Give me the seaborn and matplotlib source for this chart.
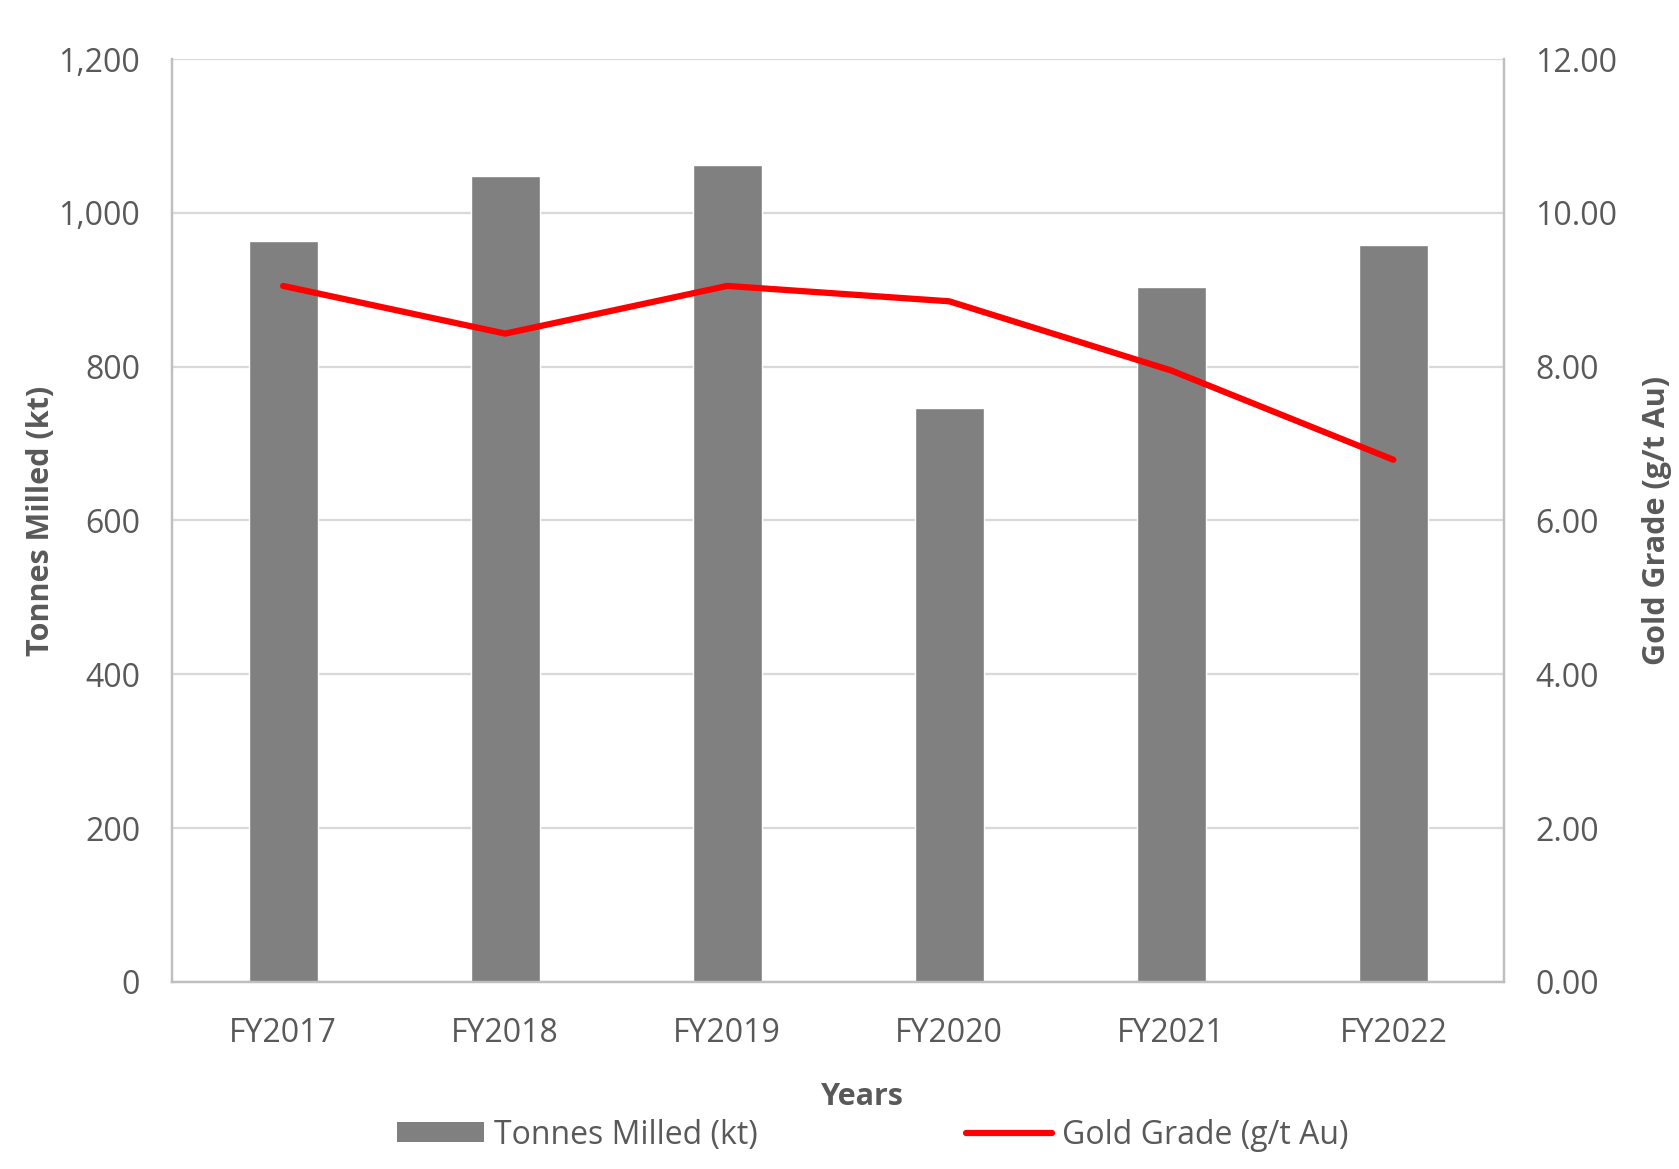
import matplotlib
matplotlib.use("Agg")
import matplotlib.pyplot as plt
import seaborn as sns
import pandas as pd
import numpy as np
from matplotlib.patches import Patch
from matplotlib.lines import Line2D

years = ["FY2017", "FY2018", "FY2019", "FY2020", "FY2021", "FY2022"]
tonnes_milled = [964, 1048, 1062, 746, 904, 958]
gold_grade = [9.05, 8.43, 9.05, 8.85, 7.95, 6.79]

df = pd.DataFrame({"Years": years, "Tonnes": tonnes_milled, "Grade": gold_grade})

sns.set_theme(style="white")
plt.rcParams['font.family'] = ['Open Sans', 'DejaVu Sans']
txt = "#595959"
tick_fs = 23

fig = plt.figure(figsize=(16.79, 11.69), dpi=100)
ax = fig.add_axes([0.1025, 0.160, 0.7935, 0.7895])

sns.barplot(data=df, x="Years", y="Tonnes", color="#808080", width=0.31,
            saturation=1, ax=ax, zorder=2)
ax.set_ylim(0, 1200)
ax.set_yticks(np.arange(0, 1201, 200))
ax.set_yticklabels([f"{v:,}" for v in range(0, 1201, 200)])
ax.yaxis.grid(True, color="#d9d9d9", linewidth=1.6, zorder=0)
ax.set_axisbelow(True)
ax.set_xlim(-0.5, 5.5)

ax2 = ax.twinx()
sns.lineplot(x=np.arange(len(years)), y=gold_grade, color="#ff0000", linewidth=4.5,
             ax=ax2, solid_capstyle="round")
ax2.set_ylim(0, 12)
ax2.set_yticks(np.arange(0, 12.01, 2))
ax2.set_yticklabels([f"{v:.2f}" for v in np.arange(0, 12.01, 2)])
ax2.set_xlim(-0.5, 5.5)

for a in (ax, ax2):
    a.spines["top"].set_visible(False)
    for s in ["left", "right", "bottom"]:
        a.spines[s].set_color("#bfbfbf")
        a.spines[s].set_linewidth(1.6)
    a.tick_params(axis="both", length=0, labelsize=tick_fs, labelcolor=txt)

ax.tick_params(axis="x", pad=25)
ax.tick_params(axis="y", pad=23)
ax2.tick_params(axis="y", pad=22)

ax.set_xlabel("Years", fontsize=22, fontweight="bold", color=txt, labelpad=23, x=0.518)
ax.set_ylabel("Tonnes Milled (kt)", fontsize=22, fontweight="bold", color=txt, labelpad=2)
ax2.set_ylabel("Gold Grade (g/t Au)", fontsize=22, fontweight="bold", color=txt, labelpad=18)

handles = [Patch(facecolor="#808080", edgecolor="none"),
           Line2D([0], [0], color="#ff0000", linewidth=4.5)]
leg = fig.legend(handles, ["Tonnes Milled (kt)", "Gold Grade (g/t Au)"],
                 loc="center", bbox_to_anchor=(0.52, 0.029), ncol=2, frameon=False,
                 fontsize=23, handlelength=2.7, handleheight=0.6, columnspacing=6.5,
                 handletextpad=0.33)
for t in leg.get_texts():
    t.set_color(txt)

fig.savefig("out.png", dpi=100, facecolor="white")
